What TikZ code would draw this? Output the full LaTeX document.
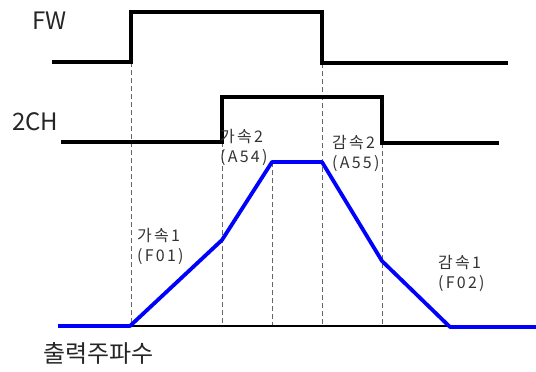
\documentclass[tikz,border=0pt]{standalone}
\usepackage{fontspec}
\setmainfont{Noto Sans CJK KR}
\newfontfamily\lblfont[LetterSpace=14]{Noto Sans CJK KR}
\usetikzlibrary{arrows.meta}

\begin{document}
\begin{tikzpicture}[x=1pt, y=-1pt, line join=miter,
    sig/.style={line width=3.2pt},
    freq/.style={blue, line width=3.8pt, line join=round},
    guide/.style={gray!80!black, line width=0.7pt, dash pattern=on 5pt off 3pt},
    lbl/.style={font=\lblfont\fontsize{16}{20}\selectfont, text=black!80, align=left, inner sep=0pt, anchor=base west},
    signame/.style={font=\fontsize{24}{27}\selectfont, text=black!85, inner sep=0pt, anchor=base west}]
    \useasboundingbox (0,0) rectangle (536,372);
    % guide lines down to the axis
    \foreach \x/\y in {131/62, 222/142, 272/162, 322/63, 382/143}
        \draw[guide] (\x,\y) -- (\x,326);
    \draw[line width=1.1pt] (130,326) -- (536,326);
    % signals
    \node[signame] (fw) at (32,29) {FW};
    \draw[sig] (52,62) -- (131,62) -- (131,12) -- (322,12) -- (322,63) -- (508,63);
    \node[signame] (ch) at (12,130) {2CH};
    \draw[sig] (61,142) -- (222,142) -- (222,97) -- (382,97) -- (382,143) -- (499,143);
    % output frequency
    \draw[freq] (58,326) -- (130,326) -- (222,240) -- (272,162) -- (322,162)
        -- (382,261) -- (450,327) -- (536,327);
    \node[lbl] (acc1) at (137,261) {가속1\\(F01)};
    \node[lbl] (acc2) at (220,162) {가속2\\(A54)};
    \node[lbl] (dec2) at (332,168) {감속2\\(A55)};
    \node[lbl] (dec1) at (438,288) {감속1\\(F02)};
    \node[font=\fontsize{24}{28}\selectfont, text=black!85, inner sep=0pt, anchor=base west] (fout) at (43,362) {출력주파수};
\end{tikzpicture}
\end{document}
